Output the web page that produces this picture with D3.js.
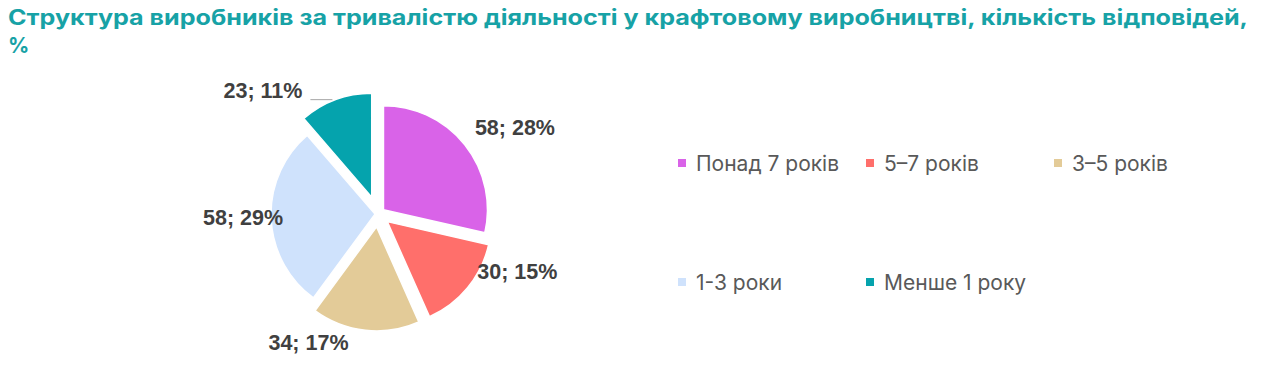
<!DOCTYPE html>
<html>
<head>
    <meta charset="utf-8" />
    <title>Pie Chart</title>
    <script src="https://cdn.jsdelivr.net/npm/d3@7"></script>
    <style>
        body { margin: 0; background: #fff; }
    </style>
</head>
<body>
<script>
    // chart data
    var categories = ["Понад 7 років", "5–7 років", "3–5 років", "1-3 роки", "Менше 1 року"];
    var counts = [58, 30, 34, 58, 23];
    var percents = [28, 15, 17, 29, 11];
    var title = ["Структура виробників за тривалістю діяльності у крафтовому виробництві, кількість відповідей,", "%"];

    // styles
    var colors = ["#d963e8", "#ff6f6b", "#e3cb98", "#cfe2fc", "#05a3ad"];
    var explode = [7, 12, 13, 3, 18];
    var labelNudge = [[22, 5], [22, -39], [-53, -24], [8, -2], [-60, 24]];

    var width = 1280, height = 372;
    var cx = 378, cy = 214, radius = 104;

    var svg = d3.select("body").append("svg")
        .attr("width", width)
        .attr("height", height);

    svg.append("rect").attr("width", width).attr("height", height).attr("fill", "#fff");

    // title
    var titleG = svg.append("g").attr("class", "title");
    titleG.selectAll("text")
        .data(title)
        .enter().append("text")
        .attr("x", 8)
        .attr("y", (d, i) => 25 + i * 28)
        .attr("font-family", "Inter, sans-serif")
        .attr("font-weight", "bold")
        .attr("font-size", 21)
        .attr("fill", "#17a2a6")
        .text(d => d)
        .each(function (d, i) {
            if (i === 0) {
                d3.select(this)
                    .attr("textLength", 1240)
                    .attr("lengthAdjust", "spacingAndGlyphs");
            }
        });

    var data = categories.map((c, i) => ({ id: c, value: counts[i], pct: percents[i], idx: i }));

    var pie = d3.pie()
        .sort(null)
        .value(d => d.value);

    var arc = d3.arc()
        .innerRadius(0)
        .outerRadius(radius);

    var arcs = pie(data);

    var dir = (d) => {
        var a = (d.startAngle + d.endAngle) / 2;
        return [Math.sin(a), -Math.cos(a)];
    };

    var pieG = svg.append("g")
        .attr("class", "pie")
        .attr("transform", `translate(${cx},${cy})`);

    pieG.selectAll("path.arc")
        .data(arcs)
        .enter().append("path")
        .attr("class", "arc")
        .attr("transform", d => {
            var v = dir(d), e = explode[d.data.idx];
            return `translate(${v[0] * e},${v[1] * e})`;
        })
        .attr("d", arc)
        .attr("fill", d => colors[d.data.idx])
        .attr("stroke", "#fff")
        .attr("stroke-width", 1.5);

    var labels = pieG.selectAll("text.label")
        .data(arcs)
        .enter().append("text")
        .attr("class", "label")
        .attr("x", d => {
            var v = dir(d), r = explode[d.data.idx] + 140;
            return v[0] * r + labelNudge[d.data.idx][0];
        })
        .attr("y", d => {
            var v = dir(d), r = explode[d.data.idx] + 140;
            return v[1] * r + labelNudge[d.data.idx][1];
        })
        .attr("dy", "0.36em")
        .attr("text-anchor", "middle")
        .attr("font-family", "'Liberation Sans', Arial, sans-serif")
        .attr("font-weight", "bold")
        .attr("font-size", 21.5)
        .attr("fill", "#404040")
        .text(d => `${d.data.value}; ${d.data.pct}%`);

    // leader line for the small slice label
    labels.filter(d => d.data.idx === 4).each(function (d) {
        var bb = this.getBBox();
        pieG.append("line")
            .attr("x1", bb.x + bb.width + 8)
            .attr("x2", bb.x + bb.width + 30)
            .attr("y1", bb.y + bb.height - 3)
            .attr("y2", bb.y + bb.height - 3)
            .attr("stroke", "#a6a6a6")
            .attr("stroke-width", 1);
    });

    // legend
    var legendCols = [678, 866, 1054];
    var legendRows = [163, 282];

    var legend = svg.append("g").attr("class", "legend");
    var items = legend.selectAll("g.item")
        .data(categories)
        .enter().append("g")
        .attr("class", "item")
        .attr("transform", (d, i) => `translate(${legendCols[i % 3]},${legendRows[Math.floor(i / 3)]})`);

    items.append("rect")
        .attr("x", 0)
        .attr("y", -4)
        .attr("width", 8)
        .attr("height", 8)
        .attr("fill", (d, i) => colors[i]);

    items.append("text")
        .attr("x", 18)
        .attr("dy", "0.36em")
        .attr("font-family", "Inter, sans-serif")
        .attr("font-size", 21)
        .attr("fill", "#595959")
        .text(d => d);
</script>
</body>
</html>
